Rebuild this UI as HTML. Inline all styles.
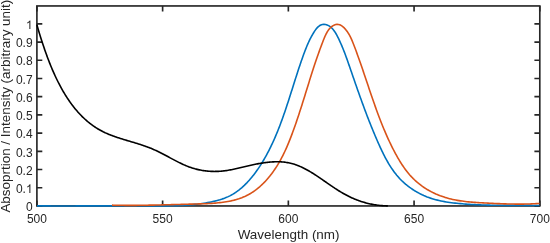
<!DOCTYPE html>
<html><head><meta charset="utf-8"><style>
html,body{margin:0;padding:0;background:#fff;}
svg{display:block;will-change:transform;}
text{font-family:"Liberation Sans",sans-serif;font-size:12px;fill:#262626;}
.lab{font-size:13.45px;}
</style></head><body>
<svg width="550" height="243" viewBox="0 0 550 243">
<rect width="550" height="243" fill="#fff"/>
<rect x="36.9" y="5.95" width="502.90" height="200.00" fill="none" stroke="#262626" stroke-width="1.65"/>
<path d="M36.90,205.95 v-5.5 M36.90,5.95 v5.5 M162.62,205.95 v-5.5 M162.62,5.95 v5.5 M288.35,205.95 v-5.5 M288.35,5.95 v5.5 M414.07,205.95 v-5.5 M414.07,5.95 v5.5 M539.80,205.95 v-5.5 M539.80,5.95 v5.5 M36.9,205.95 h5.4 M539.8,205.95 h-5.4 M36.9,187.74 h5.4 M539.8,187.74 h-5.4 M36.9,169.53 h5.4 M539.8,169.53 h-5.4 M36.9,151.32 h5.4 M539.8,151.32 h-5.4 M36.9,133.11 h5.4 M539.8,133.11 h-5.4 M36.9,114.90 h5.4 M539.8,114.90 h-5.4 M36.9,96.69 h5.4 M539.8,96.69 h-5.4 M36.9,78.48 h5.4 M539.8,78.48 h-5.4 M36.9,60.27 h5.4 M539.8,60.27 h-5.4 M36.9,42.06 h5.4 M539.8,42.06 h-5.4 M36.9,23.85 h5.4 M539.8,23.85 h-5.4" stroke="#262626" stroke-width="1.65" fill="none"/>
<g fill="none" stroke-linejoin="round" stroke-linecap="butt">
<path d="M36.99,205.88 38.79,205.89 40.59,205.89 42.39,205.90 44.19,205.91 45.99,205.91 47.79,205.92 49.59,205.92 51.38,205.93 53.18,205.93 54.98,205.93 56.78,205.94 58.57,205.94 60.37,205.94 62.17,205.94 63.97,205.94 65.76,205.94 67.56,205.94 69.36,205.93 71.15,205.93 72.95,205.93 74.75,205.93 76.54,205.92 78.34,205.92 80.13,205.91 81.93,205.91 83.73,205.91 85.52,205.90 87.32,205.90 89.11,205.89 90.91,205.89 92.71,205.88 94.50,205.88 96.30,205.87 98.09,205.87 99.89,205.86 101.69,205.86 103.48,205.85 105.28,205.85 107.07,205.84 108.87,205.84 110.67,205.83 112.46,205.83 114.26,205.82 116.06,205.82 117.85,205.82 119.65,205.81 121.45,205.81 123.24,205.81 125.04,205.81 126.84,205.81 128.64,205.80 130.43,205.80 132.23,205.80 134.03,205.80 135.83,205.80 137.63,205.81 139.43,205.81 141.22,205.81 143.02,205.82 144.82,205.82 146.62,205.82 148.42,205.83 150.22,205.84 152.02,205.84 153.82,205.85 155.62,205.86 157.42,205.86 159.22,205.87 161.02,205.87 162.82,205.86 164.62,205.86 166.42,205.84 168.22,205.83 170.02,205.80 171.81,205.77 173.61,205.73 175.40,205.68 177.20,205.63 178.99,205.56 180.78,205.48 182.57,205.39 184.36,205.29 186.15,205.18 187.93,205.05 189.72,204.91 191.50,204.75 193.28,204.58 195.06,204.40 196.84,204.19 198.62,203.98 200.40,203.74 202.17,203.49 203.95,203.21 205.73,202.92 207.50,202.61 209.28,202.28 211.05,201.93 212.82,201.55 214.59,201.15 216.35,200.71 218.09,200.25 219.83,199.75 221.55,199.21 223.25,198.63 224.93,198.00 226.59,197.33 228.23,196.62 229.84,195.85 231.42,195.02 232.97,194.14 234.49,193.20 235.97,192.22 237.43,191.18 238.86,190.09 240.25,188.97 241.62,187.80 242.96,186.60 244.28,185.37 245.56,184.11 246.82,182.83 248.05,181.52 249.26,180.19 250.44,178.84 251.60,177.47 252.74,176.07 253.85,174.66 254.94,173.23 256.01,171.78 257.06,170.32 258.08,168.84 259.09,167.35 260.08,165.84 261.05,164.33 262.00,162.80 262.93,161.26 263.84,159.72 264.74,158.16 265.62,156.60 266.49,155.03 267.34,153.46 268.18,151.87 269.00,150.28 269.81,148.68 270.60,147.08 271.38,145.47 272.14,143.85 272.90,142.22 273.64,140.59 274.37,138.96 275.08,137.32 275.79,135.67 276.48,134.02 277.17,132.36 277.84,130.70 278.50,129.03 279.16,127.36 279.80,125.69 280.44,124.01 281.07,122.33 281.69,120.64 282.30,118.95 282.91,117.26 283.51,115.56 284.10,113.86 284.69,112.16 285.27,110.46 285.85,108.75 286.42,107.04 286.98,105.33 287.55,103.62 288.11,101.91 288.66,100.19 289.21,98.48 289.76,96.76 290.31,95.04 290.86,93.32 291.40,91.61 291.95,89.89 292.49,88.17 293.03,86.45 293.57,84.73 294.12,83.01 294.66,81.30 295.21,79.58 295.75,77.87 296.30,76.16 296.85,74.44 297.41,72.73 297.96,71.03 298.52,69.32 299.09,67.62 299.66,65.92 300.23,64.22 300.81,62.53 301.39,60.83 301.98,59.15 302.57,57.46 303.18,55.78 303.79,54.10 304.40,52.43 305.03,50.76 305.68,49.10 306.34,47.44 307.02,45.79 307.73,44.14 308.46,42.49 309.22,40.86 310.02,39.22 310.86,37.60 311.73,35.98 312.65,34.37 313.61,32.76 314.62,31.17 315.69,29.61 316.83,28.16 318.07,26.87 319.40,25.80 320.84,25.00 322.36,24.49 323.92,24.30 325.51,24.46 327.09,24.92 328.63,25.65 330.10,26.61 331.48,27.75 332.73,29.03 333.88,30.42 334.93,31.92 335.90,33.50 336.81,35.13 337.67,36.79 338.49,38.47 339.29,40.15 340.06,41.83 340.81,43.51 341.54,45.19 342.25,46.87 342.94,48.55 343.61,50.23 344.27,51.91 344.91,53.59 345.54,55.27 346.16,56.95 346.77,58.63 347.37,60.32 347.96,62.00 348.55,63.68 349.13,65.37 349.72,67.05 350.30,68.74 350.88,70.42 351.46,72.11 352.04,73.79 352.63,75.48 353.21,77.17 353.79,78.85 354.38,80.54 354.96,82.23 355.55,83.92 356.14,85.60 356.73,87.29 357.32,88.98 357.92,90.67 358.51,92.35 359.11,94.04 359.71,95.73 360.32,97.41 360.92,99.10 361.53,100.78 362.14,102.47 362.76,104.15 363.38,105.84 364.00,107.52 364.62,109.20 365.25,110.88 365.88,112.56 366.52,114.24 367.16,115.92 367.81,117.60 368.46,119.27 369.11,120.95 369.77,122.62 370.44,124.30 371.11,125.97 371.78,127.64 372.46,129.31 373.15,130.98 373.84,132.64 374.53,134.31 375.24,135.97 375.95,137.63 376.66,139.29 377.39,140.95 378.11,142.60 378.85,144.26 379.59,145.91 380.35,147.56 381.11,149.20 381.88,150.83 382.67,152.46 383.47,154.08 384.28,155.69 385.11,157.29 385.96,158.88 386.83,160.45 387.71,162.01 388.62,163.56 389.54,165.08 390.50,166.60 391.47,168.09 392.47,169.56 393.50,171.01 394.55,172.43 395.64,173.84 396.75,175.22 397.90,176.57 399.08,177.90 400.29,179.20 401.54,180.47 402.82,181.70 404.14,182.91 405.49,184.09 406.87,185.23 408.29,186.34 409.73,187.42 411.20,188.46 412.70,189.47 414.22,190.45 415.77,191.38 417.34,192.29 418.93,193.15 420.54,193.98 422.17,194.77 423.81,195.52 425.47,196.23 427.14,196.91 428.83,197.54 430.52,198.13 432.23,198.68 433.95,199.20 435.67,199.68 437.41,200.13 439.15,200.54 440.90,200.93 442.66,201.29 444.42,201.62 446.19,201.92 447.97,202.20 449.75,202.46 451.53,202.70 453.32,202.92 455.10,203.13 456.89,203.32 458.69,203.49 460.48,203.66 462.27,203.81 464.07,203.95 465.86,204.09 467.65,204.22 469.45,204.33 471.24,204.44 473.03,204.55 474.83,204.64 476.62,204.73 478.42,204.81 480.21,204.88 482.01,204.94 483.80,205.01 485.60,205.06 487.39,205.11 489.19,205.15 490.98,205.19 492.78,205.22 494.57,205.25 496.37,205.28 498.16,205.30 499.96,205.32 501.75,205.34 503.55,205.35 505.35,205.36 507.14,205.37 508.94,205.38 510.74,205.38 512.53,205.38 514.33,205.39 516.13,205.39 517.92,205.39 519.72,205.39 521.52,205.40 523.32,205.40 525.11,205.40 526.91,205.41 528.71,205.42 530.51,205.42 532.31,205.43 534.11,205.45 535.90,205.46 537.70,205.48 539.50,205.51" stroke="#0072BD" stroke-width="1.6"/>
<path d="M112.00,205.14 113.61,205.18 115.22,205.21 116.83,205.24 118.44,205.27 120.06,205.29 121.67,205.31 123.28,205.32 124.89,205.33 126.51,205.34 128.12,205.35 129.73,205.35 131.35,205.35 132.96,205.34 134.57,205.34 136.19,205.33 137.80,205.32 139.42,205.30 141.03,205.29 142.65,205.27 144.26,205.25 145.88,205.22 147.49,205.20 149.10,205.17 150.72,205.14 152.33,205.11 153.95,205.08 155.56,205.05 157.17,205.01 158.79,204.97 160.40,204.94 162.01,204.90 163.63,204.86 165.24,204.82 166.85,204.78 168.46,204.74 170.07,204.69 171.68,204.65 173.29,204.61 174.90,204.56 176.51,204.52 178.12,204.48 179.72,204.43 181.33,204.39 182.94,204.34 184.54,204.30 186.15,204.26 187.75,204.21 189.35,204.17 190.95,204.13 192.55,204.09 194.15,204.05 195.75,204.01 197.35,203.97 198.95,203.92 200.55,203.87 202.15,203.82 203.74,203.76 205.34,203.70 206.94,203.62 208.54,203.54 210.14,203.45 211.74,203.35 213.35,203.23 214.95,203.11 216.56,202.96 218.16,202.81 219.77,202.64 221.38,202.45 222.99,202.24 224.60,202.01 226.21,201.76 227.81,201.48 229.41,201.18 231.00,200.86 232.58,200.50 234.16,200.12 235.72,199.70 237.27,199.25 238.81,198.77 240.33,198.25 241.84,197.70 243.33,197.10 244.80,196.47 246.26,195.79 247.69,195.07 249.10,194.30 250.49,193.50 251.85,192.65 253.20,191.77 254.52,190.85 255.82,189.90 257.10,188.91 258.35,187.89 259.59,186.84 260.80,185.76 261.99,184.65 263.16,183.52 264.30,182.37 265.42,181.19 266.52,179.99 267.59,178.77 268.64,177.54 269.67,176.29 270.67,175.02 271.66,173.75 272.61,172.45 273.55,171.15 274.47,169.83 275.36,168.50 276.24,167.16 277.09,165.81 277.93,164.45 278.74,163.07 279.54,161.69 280.33,160.29 281.09,158.89 281.84,157.47 282.57,156.05 283.29,154.62 284.00,153.18 284.69,151.73 285.36,150.28 286.03,148.81 286.68,147.34 287.32,145.87 287.95,144.38 288.57,142.90 289.18,141.40 289.78,139.90 290.37,138.40 290.96,136.89 291.53,135.38 292.10,133.86 292.67,132.34 293.22,130.82 293.78,129.29 294.32,127.76 294.87,126.23 295.40,124.70 295.94,123.16 296.46,121.62 296.99,120.08 297.51,118.54 298.02,117.00 298.54,115.46 299.04,113.91 299.55,112.37 300.05,110.82 300.55,109.28 301.05,107.73 301.54,106.19 302.03,104.64 302.52,103.10 303.00,101.55 303.49,100.01 303.97,98.47 304.45,96.93 304.93,95.39 305.41,93.85 305.88,92.31 306.36,90.78 306.83,89.24 307.31,87.71 307.78,86.19 308.25,84.66 308.73,83.14 309.20,81.62 309.67,80.11 310.15,78.60 310.62,77.09 311.09,75.58 311.57,74.08 312.05,72.58 312.53,71.07 313.02,69.57 313.50,68.07 314.00,66.57 314.49,65.06 314.99,63.56 315.50,62.05 316.01,60.54 316.53,59.02 317.05,57.50 317.58,55.97 318.12,54.44 318.66,52.91 319.22,51.36 319.78,49.81 320.35,48.25 320.93,46.69 321.52,45.11 322.12,43.52 322.73,41.93 323.35,40.32 323.99,38.71 324.65,37.11 325.35,35.54 326.09,34.00 326.88,32.52 327.73,31.11 328.65,29.79 329.65,28.56 330.73,27.44 331.90,26.46 333.14,25.64 334.43,25.00 335.75,24.57 337.07,24.38 338.38,24.45 339.67,24.78 340.93,25.35 342.16,26.12 343.34,27.07 344.48,28.17 345.57,29.39 346.61,30.70 347.58,32.08 348.49,33.50 349.33,34.94 350.12,36.41 350.86,37.89 351.55,39.39 352.21,40.90 352.84,42.43 353.44,43.95 354.03,45.48 354.61,47.02 355.19,48.55 355.76,50.07 356.32,51.60 356.88,53.13 357.43,54.65 357.98,56.18 358.53,57.70 359.07,59.22 359.60,60.74 360.14,62.26 360.67,63.78 361.20,65.30 361.72,66.82 362.24,68.34 362.76,69.86 363.28,71.38 363.80,72.90 364.31,74.42 364.83,75.94 365.34,77.47 365.85,78.99 366.36,80.51 366.87,82.03 367.39,83.56 367.90,85.08 368.41,86.60 368.92,88.13 369.44,89.65 369.95,91.17 370.47,92.69 370.98,94.22 371.50,95.74 372.03,97.26 372.55,98.78 373.08,100.30 373.60,101.82 374.14,103.34 374.67,104.86 375.21,106.38 375.75,107.89 376.30,109.41 376.85,110.92 377.40,112.43 377.96,113.94 378.52,115.45 379.09,116.96 379.67,118.46 380.25,119.97 380.83,121.47 381.42,122.97 382.02,124.46 382.62,125.96 383.23,127.45 383.85,128.94 384.47,130.43 385.10,131.91 385.74,133.40 386.39,134.88 387.04,136.35 387.70,137.83 388.37,139.30 389.05,140.77 389.74,142.23 390.44,143.69 391.14,145.15 391.86,146.60 392.58,148.05 393.32,149.50 394.07,150.94 394.82,152.38 395.59,153.81 396.37,155.24 397.16,156.66 397.97,158.07 398.79,159.47 399.63,160.85 400.48,162.23 401.35,163.60 402.24,164.95 403.14,166.28 404.06,167.61 405.00,168.91 405.96,170.20 406.94,171.47 407.94,172.72 408.96,173.95 410.01,175.17 411.08,176.35 412.17,177.52 413.28,178.66 414.42,179.78 415.59,180.87 416.78,181.94 418.00,182.98 419.24,183.99 420.51,184.97 421.80,185.93 423.12,186.86 424.45,187.76 425.81,188.63 427.18,189.48 428.58,190.29 429.99,191.08 431.42,191.84 432.86,192.57 434.32,193.27 435.80,193.95 437.28,194.59 438.78,195.20 440.29,195.79 441.80,196.34 443.33,196.86 444.87,197.36 446.41,197.82 447.96,198.26 449.51,198.67 451.07,199.05 452.64,199.41 454.22,199.74 455.79,200.05 457.38,200.34 458.97,200.61 460.56,200.85 462.15,201.08 463.75,201.30 465.36,201.49 466.96,201.67 468.57,201.84 470.18,201.99 471.80,202.13 473.41,202.26 475.03,202.38 476.64,202.50 478.26,202.60 479.88,202.70 481.49,202.79 483.11,202.88 484.73,202.97 486.34,203.05 487.96,203.14 489.57,203.22 491.18,203.30 492.79,203.37 494.40,203.45 496.01,203.52 497.62,203.59 499.23,203.66 500.84,203.72 502.44,203.78 504.05,203.84 505.66,203.89 507.26,203.93 508.87,203.98 510.48,204.01 512.08,204.04 513.69,204.07 515.30,204.09 516.91,204.10 518.51,204.10 520.12,204.10 521.73,204.09 523.34,204.08 524.96,204.05 526.57,204.02 528.18,203.98 529.80,203.93 531.41,203.88 533.03,203.81 534.65,203.73 536.27,203.65 537.89,203.55 539.52,203.44" stroke="#D95319" stroke-width="1.6"/>
<path d="M36.82,24.61 37.10,25.57 37.38,26.53 37.67,27.50 37.96,28.47 38.25,29.45 38.54,30.43 38.84,31.42 39.14,32.40 39.44,33.40 39.74,34.39 40.05,35.39 40.36,36.40 40.68,37.40 41.00,38.41 41.32,39.42 41.64,40.44 41.97,41.45 42.30,42.47 42.63,43.50 42.97,44.52 43.31,45.55 43.66,46.57 44.00,47.60 44.36,48.63 44.71,49.66 45.07,50.70 45.43,51.73 45.80,52.77 46.17,53.80 46.55,54.84 46.92,55.88 47.31,56.91 47.69,57.95 48.09,58.99 48.48,60.02 48.88,61.06 49.29,62.10 49.69,63.13 50.11,64.17 50.52,65.20 50.95,66.24 51.37,67.27 51.80,68.30 52.24,69.33 52.68,70.35 53.13,71.38 53.58,72.40 54.03,73.42 54.49,74.44 54.96,75.46 55.43,76.48 55.90,77.49 56.38,78.50 56.87,79.50 57.36,80.50 57.86,81.50 58.36,82.50 58.87,83.49 59.38,84.48 59.90,85.46 60.42,86.45 60.95,87.42 61.49,88.39 62.03,89.36 62.58,90.32 63.13,91.28 63.69,92.24 64.25,93.18 64.82,94.13 65.40,95.06 65.99,96.00 66.57,96.92 67.17,97.84 67.77,98.76 68.38,99.67 68.99,100.57 69.62,101.46 70.24,102.35 70.88,103.24 71.52,104.11 72.17,104.98 72.82,105.84 73.48,106.69 74.15,107.54 74.82,108.38 75.50,109.21 76.19,110.03 76.89,110.85 77.59,111.66 78.30,112.45 79.02,113.24 79.74,114.03 80.47,114.80 81.21,115.56 81.96,116.32 82.71,117.06 83.47,117.80 84.24,118.52 85.02,119.24 85.80,119.95 86.59,120.64 87.39,121.33 88.20,122.01 89.02,122.67 89.84,123.33 90.67,123.97 91.51,124.60 92.36,125.23 93.21,125.84 94.08,126.44 94.95,127.02 95.83,127.60 96.72,128.17 97.61,128.72 98.52,129.26 99.43,129.79 100.35,130.30 101.29,130.81 102.23,131.30 103.17,131.78 104.13,132.24 105.09,132.70 106.07,133.14 107.05,133.57 108.03,133.99 109.03,134.41 110.03,134.81 111.03,135.20 112.05,135.59 113.07,135.97 114.09,136.34 115.12,136.70 116.15,137.06 117.19,137.41 118.23,137.75 119.28,138.09 120.33,138.43 121.38,138.76 122.44,139.09 123.49,139.42 124.56,139.74 125.62,140.06 126.68,140.38 127.75,140.70 128.82,141.01 129.89,141.33 130.96,141.65 132.02,141.96 133.09,142.28 134.16,142.60 135.23,142.93 136.30,143.25 137.37,143.58 138.43,143.91 139.50,144.25 140.56,144.59 141.62,144.94 142.67,145.29 143.73,145.65 144.78,146.01 145.83,146.38 146.87,146.76 147.91,147.15 148.94,147.54 149.97,147.95 151.00,148.36 152.02,148.78 153.03,149.22 154.04,149.66 155.05,150.11 156.04,150.57 157.04,151.04 158.03,151.52 159.01,152.00 160.00,152.49 160.97,152.99 161.95,153.49 162.92,153.99 163.89,154.50 164.86,155.01 165.82,155.53 166.79,156.04 167.75,156.56 168.71,157.07 169.67,157.59 170.62,158.11 171.58,158.62 172.54,159.13 173.50,159.64 174.45,160.15 175.41,160.65 176.37,161.14 177.33,161.64 178.29,162.12 179.26,162.60 180.22,163.07 181.19,163.54 182.16,163.99 183.13,164.44 184.11,164.87 185.09,165.30 186.07,165.71 187.06,166.12 188.05,166.51 189.05,166.89 190.05,167.25 191.05,167.60 192.06,167.93 193.08,168.25 194.10,168.56 195.12,168.85 196.16,169.12 197.19,169.38 198.23,169.62 199.27,169.85 200.32,170.06 201.37,170.25 202.43,170.44 203.49,170.60 204.55,170.75 205.61,170.89 206.68,171.01 207.75,171.11 208.82,171.20 209.89,171.28 210.97,171.34 212.04,171.38 213.12,171.41 214.20,171.43 215.28,171.42 216.36,171.41 217.44,171.38 218.52,171.33 219.60,171.27 220.68,171.20 221.76,171.11 222.84,171.00 223.92,170.88 225.00,170.75 226.07,170.60 227.15,170.43 228.22,170.26 229.30,170.07 230.37,169.87 231.44,169.67 232.51,169.45 233.59,169.23 234.66,168.99 235.73,168.75 236.81,168.51 237.88,168.26 238.96,168.01 240.04,167.75 241.12,167.50 242.20,167.24 243.28,166.98 244.36,166.72 245.44,166.46 246.53,166.21 247.62,165.96 248.71,165.71 249.80,165.46 250.89,165.22 251.98,164.98 253.08,164.74 254.17,164.52 255.27,164.29 256.36,164.08 257.46,163.87 258.55,163.66 259.64,163.47 260.74,163.28 261.83,163.10 262.93,162.93 264.02,162.77 265.11,162.62 266.20,162.48 267.29,162.35 268.37,162.23 269.46,162.12 270.54,162.03 271.62,161.95 272.70,161.88 273.78,161.83 274.85,161.79 275.93,161.76 276.99,161.75 278.06,161.76 279.12,161.78 280.18,161.82 281.24,161.87 282.29,161.95 283.34,162.04 284.38,162.15 285.42,162.27 286.46,162.42 287.49,162.59 288.52,162.78 289.54,162.98 290.55,163.21 291.57,163.47 292.57,163.74 293.57,164.03 294.57,164.34 295.56,164.68 296.55,165.03 297.54,165.40 298.51,165.78 299.49,166.19 300.46,166.61 301.43,167.04 302.39,167.49 303.36,167.96 304.31,168.44 305.27,168.93 306.22,169.44 307.17,169.96 308.11,170.49 309.06,171.03 310.00,171.58 310.94,172.14 311.87,172.71 312.81,173.29 313.74,173.88 314.67,174.48 315.60,175.08 316.53,175.69 317.45,176.30 318.38,176.92 319.30,177.55 320.22,178.18 321.15,178.81 322.07,179.45 322.99,180.08 323.91,180.72 324.83,181.36 325.75,182.00 326.67,182.64 327.59,183.29 328.51,183.92 329.43,184.56 330.35,185.20 331.27,185.83 332.20,186.46 333.12,187.08 334.05,187.70 334.97,188.31 335.90,188.92 336.83,189.52 337.76,190.12 338.69,190.71 339.63,191.28 340.57,191.85 341.51,192.41 342.45,192.97 343.39,193.51 344.34,194.04 345.29,194.56 346.24,195.06 347.20,195.56 348.15,196.05 349.12,196.53 350.08,196.99 351.05,197.45 352.02,197.90 353.00,198.33 353.97,198.75 354.96,199.16 355.94,199.56 356.93,199.95 357.93,200.33 358.93,200.69 359.93,201.05 360.94,201.39 361.95,201.72 362.96,202.04 363.98,202.34 365.01,202.64 366.04,202.92 367.08,203.19 368.12,203.45 369.16,203.69 370.21,203.92 371.27,204.14 372.33,204.35 373.40,204.54 374.47,204.72 375.55,204.89 376.64,205.05 377.73,205.19 378.83,205.32 379.93,205.43 381.04,205.53 382.16,205.62 383.28,205.70 384.41,205.76 385.55,205.80 386.69,205.84 387.84,205.86" stroke="#000" stroke-width="1.6"/>
</g>
<text x="32.6" y="211.15" text-anchor="end">0</text><text x="25.93" y="192.94" text-anchor="end">0.</text><path transform="translate(25.926,192.940) scale(0.005859,-0.005859)" d="M763 0H583V1147Q518 1085 412 1023Q306 961 223 930V1104Q374 1175 487 1276Q600 1377 647 1472H763Z" fill="#262626"/><text x="32.6" y="174.73" text-anchor="end">0.2</text><text x="32.6" y="156.52" text-anchor="end">0.3</text><text x="32.6" y="138.31" text-anchor="end">0.4</text><text x="32.6" y="120.10" text-anchor="end">0.5</text><text x="32.6" y="101.89" text-anchor="end">0.6</text><text x="32.6" y="83.68" text-anchor="end">0.7</text><text x="32.6" y="65.47" text-anchor="end">0.8</text><text x="32.6" y="47.26" text-anchor="end">0.9</text><path transform="translate(25.926,29.050) scale(0.005859,-0.005859)" d="M763 0H583V1147Q518 1085 412 1023Q306 961 223 930V1104Q374 1175 487 1276Q600 1377 647 1472H763Z" fill="#262626"/>
<text x="36.90" y="222.9" text-anchor="middle">500</text><text x="162.62" y="222.9" text-anchor="middle">550</text><text x="288.35" y="222.9" text-anchor="middle">600</text><text x="414.07" y="222.9" text-anchor="middle">650</text><text x="539.80" y="222.9" text-anchor="middle">700</text>
<text class="lab" x="288.6" y="239.4" text-anchor="middle">Wavelength (nm)</text>
<text class="lab" transform="translate(10.3,106.2) rotate(-90)" text-anchor="middle">Absoprtion / Intensity (arbitrary unit)</text>
</svg>
</body></html>
